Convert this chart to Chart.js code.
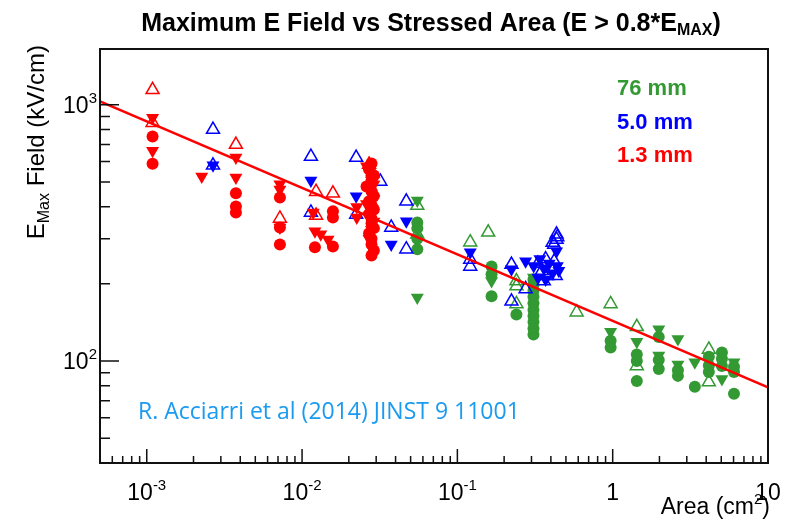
<!DOCTYPE html>
<html>
<head>
<meta charset="utf-8">
<script src="https://cdn.jsdelivr.net/npm/chart.js@4.4.1/dist/chart.umd.min.js"></script>
<style>body{margin:0;background:#fff}</style>
</head>
<body>
<canvas id="myChart" width="788" height="520"></canvas>
<script>
// area (cm^2) and max field (kV/cm) per gap
const redUpA = [0.00109, 0.00109, 0.00375, 0.0072, 0.0123, 0.0123, 0.0158, 0.027, 0.0285];
const redUpE = [1143, 851, 699, 360, 458, 370, 451, 585, 540];
const redDownA = [0.00109, 0.00109, 0.00226, 0.00375, 0.00375, 0.0072, 0.0072, 0.0072, 0.0118, 0.0121, 0.0132, 0.0147, 0.0225, 0.0225,
    0.026, 0.027, 0.028, 0.029, 0.027, 0.028, 0.029, 0.026, 0.028, 0.027, 0.029, 0.028, 0.027];
const redDownE = [890, 662, 525, 622, 520, 489, 467, 332, 380, 321, 312, 298, 399, 363,
    575, 545, 515, 490, 470, 450, 430, 410, 395, 370, 350, 325, 300];
const redDotA = [0.00109, 0.00109, 0.00375, 0.00375, 0.00375, 0.0072, 0.0072, 0.0072, 0.0121, 0.0158, 0.0158, 0.0158,
    0.028, 0.027, 0.029, 0.028, 0.026, 0.028, 0.029, 0.027, 0.028, 0.029, 0.027, 0.028, 0.028, 0.029, 0.027, 0.028, 0.028, 0.029, 0.028];
const redDotE = [751, 589, 451, 401, 380, 435, 332, 285, 278, 280, 384, 363,
    590, 560, 530, 505, 480, 460, 440, 420, 405, 390, 375, 360, 345, 330, 315, 300, 285, 270, 258];

const blueUpA = [0.00267, 0.00267, 0.0114, 0.0114, 0.0223, 0.0223, 0.0319, 0.0375, 0.0469, 0.0469, 0.121, 0.121, 0.223, 0.223, 0.275,
    0.33, 0.35, 0.37, 0.38, 0.40, 0.42, 0.36, 0.43, 0.435, 0.435, 0.42, 0.44, 0.41];
const blueUpE = [800, 580, 628, 380, 622, 373, 502, 332, 420, 273, 249, 234, 238, 171, 191,
    240, 225, 250, 215, 230, 245, 205, 215, 312, 298, 285, 305, 290];
const blueDownA = [0.00267, 0.0114, 0.0223, 0.0375, 0.0469, 0.121, 0.223, 0.275, 0.31, 0.34, 0.36, 0.39, 0.41, 0.33, 0.37, 0.44, 0.435, 0.45];
const blueDownE = [580, 506, 439, 285, 351, 266, 228, 245, 235, 250, 230, 240, 220, 212, 208, 235, 268, 225];

const greenUpA = [0.0552, 0.0552, 0.121, 0.158, 0.24, 0.24, 0.24, 0.586, 0.97, 1.43, 1.43, 4.16, 4.16];
const greenUpE = [404, 312, 291, 318, 196, 167, 205, 155, 167, 136, 95.7, 111, 82.8];
const greenDownA = [0.0552, 0.0552, 0.166, 0.309, 0.97, 1.43, 1.98, 1.98, 2.63, 2.63, 3.38, 5.05, 6.04];
const greenDownE = [423, 177, 205, 212, 130, 119, 133, 105, 122, 97, 99, 85, 99];
const greenDotA = [0.0552, 0.0552, 0.0552, 0.0552, 0.166, 0.166, 0.166, 0.24,
    0.309, 0.309, 0.309, 0.309, 0.309, 0.309, 0.309, 0.309, 0.309, 0.309,
    0.97, 0.97, 1.43, 1.43, 1.43, 1.98, 1.98, 1.98, 2.63, 2.63, 3.38, 4.16, 4.16, 4.16, 5.05, 5.05, 5.05, 6.04, 6.04, 6.04];
const greenDotE = [347, 330, 300, 273, 234, 218, 179, 152,
    208, 198, 188, 178, 168, 158, 150, 142, 134, 127,
    120, 113, 106, 100, 83.6, 124, 101, 93, 87.5, 92, 79.3, 104, 90.6, 96, 108, 95.7, 102, 90.6, 74.5, 95];

// power-law fit, end points
const fitA = [5e-4, 10];
const fitE = [1030, 79];

const gapLabels = ["76 mm", "5.0 mm", "1.3 mm"];
const xMajor = [1e-3, 1e-2, 1e-1, 1, 10];
const xTickLabels = [["10", "-3"], ["10", "-2"], ["10", "-1"], ["1", ""], ["10", ""]];
const yMajor = [100, 1000];
const yTickLabels = [["10", "2"], ["10", "3"]];

const GREEN = '#339933', BLUE = '#0000ff', RED = '#ff0000';
const FONT = '"Liberation Sans", Arial, sans-serif';

function pts(xs, ys) {
    return xs.map((x, i) => ({ x: x, y: ys[i] }));
}

function markers(xs, ys, color, kind, order) {
    let ds = { data: pts(xs, ys), order: order, borderColor: color, pointBorderColor: color };
    if (kind === 'up') {
        Object.assign(ds, { pointStyle: 'triangle', pointRadius: 7.5, pointBackgroundColor: 'rgba(0,0,0,0)', pointBorderWidth: 1.5 });
    } else if (kind === 'down') {
        Object.assign(ds, { pointStyle: 'triangle', rotation: 180, pointRotation: 180, pointRadius: 7.5, pointBackgroundColor: color, pointBorderWidth: 0 });
    } else {
        Object.assign(ds, { pointStyle: 'circle', pointRadius: 6, pointBackgroundColor: color, pointBorderWidth: 0 });
    }
    return ds;
}

function logTicks(min, max) {
    let out = [];
    for (let e = Math.floor(Math.log10(min)); e <= Math.ceil(Math.log10(max)); e++) {
        for (let k = 1; k <= 9; k++) {
            let v = k * Math.pow(10, e);
            if (v >= min * 0.999 && v <= max * 1.001) out.push(v);
        }
    }
    return out;
}
function isDecade(v) {
    let l = Math.log10(v);
    return Math.abs(l - Math.round(l)) < 1e-6;
}

// draw text made of pieces (for sub/superscripts)
function drawParts(ctx, parts, x, y, align) {
    let w = 0;
    parts.forEach(p => { ctx.font = p.font; w += ctx.measureText(p.t).width; });
    let cx = align === 'center' ? x - w / 2 : align === 'right' ? x - w : x;
    parts.forEach(p => {
        ctx.font = p.font;
        ctx.fillText(p.t, cx, y + (p.dy || 0));
        cx += ctx.measureText(p.t).width;
    });
}

const rootFrame = {
    id: 'rootFrame',
    afterDatasetsDraw(chart) {
        const { ctx, chartArea: a, scales: { x, y } } = chart;
        ctx.save();
        ctx.strokeStyle = '#111';
        ctx.lineWidth = 1.5;
        ctx.beginPath();
        logTicks(x.min, x.max).forEach(v => {
            const px = x.getPixelForValue(v);
            const len = isDecade(v) ? 14 : 7;
            ctx.moveTo(px, a.bottom);
            ctx.lineTo(px, a.bottom - len);
        });
        logTicks(y.min, y.max).forEach(v => {
            const py = y.getPixelForValue(v);
            const len = isDecade(v) ? 19 : 10;
            ctx.moveTo(a.left, py);
            ctx.lineTo(a.left + len, py);
        });
        ctx.stroke();
        ctx.lineWidth = 2;
        ctx.strokeRect(a.left, a.top, a.right - a.left, a.bottom - a.top);
        ctx.restore();
    },
    afterDraw(chart) {
        const { ctx, chartArea: a, scales: { x, y } } = chart;
        ctx.save();
        ctx.textBaseline = 'alphabetic';
        ctx.fillStyle = '#000';
        const big = '23px ' + FONT, small = '15px ' + FONT;
        xMajor.forEach((v, i) => {
            const [b, e] = xTickLabels[i];
            drawParts(ctx, [{ t: b, font: big }, { t: e, font: small, dy: -10 }], x.getPixelForValue(v), a.bottom + 37, 'center');
        });
        yMajor.forEach((v, i) => {
            const [b, e] = yTickLabels[i];
            drawParts(ctx, [{ t: b, font: big }, { t: e, font: small, dy: -10 }], a.left - 3, y.getPixelForValue(v) + 8, 'right');
        });

        // title
        drawParts(ctx, [
            { t: 'Maximum E Field vs Stressed Area (E > 0.8*E', font: 'bold 25px ' + FONT },
            { t: 'MAX', font: 'bold 16px ' + FONT, dy: 4 },
            { t: ')', font: 'bold 25px ' + FONT }
        ], 431, 31, 'center');

        // axis titles
        drawParts(ctx, [{ t: 'Area (cm', font: big }, { t: '2', font: small, dy: -10 }, { t: ')', font: big }], a.right + 2, 514, 'right');
        ctx.save();
        ctx.translate(44, a.top - 4);
        ctx.rotate(-Math.PI / 2);
        drawParts(ctx, [{ t: 'E', font: '24px ' + FONT }, { t: 'Max', font: '16px ' + FONT, dy: 5 }, { t: ' Field (kV/cm)', font: '24px ' + FONT }], 0, 0, 'right');
        ctx.restore();

        // gap legend
        const cols = [GREEN, BLUE, RED];
        gapLabels.forEach((t, i) => {
            ctx.fillStyle = cols[i];
            ctx.font = 'bold 22px ' + FONT;
            ctx.fillText(t, 617, 95 + i * 33.5);
        });

        // citation
        ctx.fillStyle = '#1a9af0';
        ctx.font = '23px "Open Sans", Lato, sans-serif';
        ctx.fillText('R. Acciarri et al (2014) JINST 9 11001', 138, 419);
        ctx.restore();
    }
};

const ctx = document.getElementById('myChart').getContext('2d');
const myChart = new Chart(ctx, {
    type: 'scatter',
    data: {
        datasets: [
            markers(greenDotA, greenDotE, GREEN, 'dot', 9),
            markers(greenDownA, greenDownE, GREEN, 'down', 8),
            markers(greenUpA, greenUpE, GREEN, 'up', 7),
            markers(blueDownA, blueDownE, BLUE, 'down', 6),
            markers(blueUpA, blueUpE, BLUE, 'up', 5),
            markers(redDotA, redDotE, RED, 'dot', 4),
            markers(redDownA, redDownE, RED, 'down', 3),
            markers(redUpA, redUpE, RED, 'up', 2),
            {
                data: pts(fitA, fitE),
                showLine: true,
                borderColor: RED,
                borderWidth: 2.5,
                pointRadius: 0,
                order: 0
            }
        ]
    },
    options: {
        responsive: false,
        animation: false,
        events: [],
        layout: {
            padding: { left: 100, right: 20, top: 49, bottom: 57 }
        },
        scales: {
            x: { type: 'logarithmic', min: 5e-4, max: 10, display: false },
            y: { type: 'logarithmic', min: 40, max: 1650, display: false }
        },
        plugins: {
            legend: { display: false },
            tooltip: { enabled: false }
        }
    },
    plugins: [rootFrame]
});
</script>
</body>
</html>
